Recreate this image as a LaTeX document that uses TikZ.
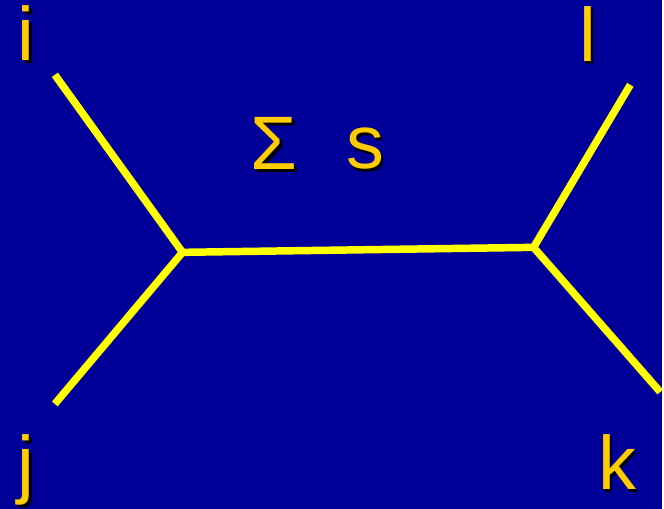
\documentclass[tikz,border=0pt]{standalone}
\usepackage{fontspec}
\setmainfont{Liberation Sans}
\usetikzlibrary{positioning}
\definecolor{TreeBlue}{HTML}{000099}
\definecolor{TreeYellow}{HTML}{FFFF00}
\definecolor{TreeGold}{HTML}{FFCC00}
% gold letter with a dark drop shadow
\newcommand{\dropshade}[1]{\makebox[0pt][l]{\hspace{2.5pt}\raisebox{-2.5pt}{\color{black}#1}}#1}

\begin{document}
\begin{tikzpicture}[
  x=1pt, y=-1pt,
  branch/.style  = {draw=TreeYellow, line width=7.5pt},
  taxon/.style   = {text=TreeGold, anchor=base, inner sep=0pt, font=\fontsize{76}{80}\selectfont}
]
% Background
\fill[TreeBlue] (0,0) rectangle (664,510);

% Internal nodes and leaf ends
\coordinate (v1) at (183,253);
\coordinate (v2) at (535,248);
\coordinate (ei) at (55,75);
\coordinate (ej) at (55,405);
\coordinate (el) at (632,85);
\coordinate (ek) at (662,393);

% Branches
\draw[branch] (ei) -- (v1) -- (ej);
\draw[branch] (el) -- (v2) -- (ek);
\draw[branch] (v1) -- (v2);

% Labels
\node[taxon] (i)   at (26,61)   {\dropshade{i}};
\node[taxon] (j)   at (26,491)  {\dropshade{j}};
\node[taxon] (l)   at (589,62)  {\dropshade{l}};
\node[taxon] (k)   at (619,491) {\dropshade{k}};
\node[taxon] (sum) at (275,170) {\dropshade{Σ}};
\node[taxon] (s)   at (366,169) {\dropshade{s}};
\end{tikzpicture}
\end{document}
